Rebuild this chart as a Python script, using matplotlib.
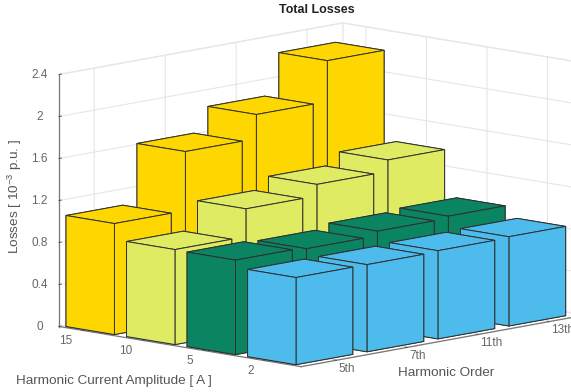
import numpy as np
import matplotlib
matplotlib.use('Agg')
import matplotlib.pyplot as plt
from mpl_toolkits.mplot3d import proj3d

orders = ['5th', '7th', '11th', '13th']
amplitudes = ['15', '10', '5', '2']
loss_15 = [1.057, 1.62, 1.85, 2.24]
loss_10 = [0.905, 1.17, 1.28, 1.39]
loss_5 = [0.90, 0.886, 0.93, 0.95]
loss_2 = [0.83, 0.83, 0.84, 0.85]
colors = ['#FFD700', '#DFEC63', '#0B8461', '#4DBBEC']
zticks = [0, 0.4, 0.8, 1.2, 1.6, 2, 2.4]

plt.rcParams['font.family'] = ['Liberation Sans', 'DejaVu Sans']
plt.rcParams['mathtext.default'] = 'regular'

W, H = 571, 392
fig = plt.figure(figsize=(W / 100, H / 100), dpi=100)
ax = fig.add_axes([0, 0, 1, 1], projection='3d', proj_type='ortho', computed_zorder=False)
ax.view_init(elev=10, azim=223.7)
ax.set_box_aspect((411, 335, 256))

xlim = (0.553, 4.553)
ylim = (0.461, 4.461)
ax.set_xlim(*xlim, view_margin=0)
ax.set_ylim(*ylim, view_margin=0)
ax.set_zlim(0, 2.4, view_margin=0)

rows = [loss_15, loss_10, loss_5, loss_2]
width = 0.8
n = 0
# far row first, and far bars first in every row
for r, row in enumerate(rows):
    y = 4 - r
    for i in range(3, -1, -1):
        bar = ax.bar3d(i + 1 - width / 2, y - width / 2, 0, width, width, row[i],
                       color=colors[r], edgecolor='#2f2f2f', linewidth=0.7, shade=False)
        bar.set_zorder(10 + n)
        n += 1

ax.set_xticks([1.05, 2.05, 3.05, 4.05])
ax.set_xticklabels(orders, ha='left')
ax.set_yticks([4.08, 3.08, 2.08, 1.08])
ax.set_yticklabels(amplitudes, ha='right', va='center')
ax.set_zticks(zticks)
ax.set_zticklabels(['0', '0.4', '0.8', '1.2', '1.6', '2', '2.4'], va='center')
ax.tick_params(axis='both', labelsize=8.5, labelcolor='#666666', color='#555555')

for axis in (ax.xaxis, ax.yaxis, ax.zaxis):
    axis.set_pane_color((1, 1, 1, 1))
    axis.pane.set_edgecolor('#ebebeb')
    axis.line.set_color('#777777')
    axis.line.set_linewidth(0.9)
    axis._axinfo['grid']['color'] = '#e6e6e6'
    axis._axinfo['grid']['linewidth'] = 0.8
    axis._axinfo['tick']['inward_factor'] = 0
    axis._axinfo['tick']['outward_factor'] = 0.1
    axis._axinfo['tick']['linewidth'] = {True: 0.7, False: 0.7}

ax.tick_params(axis='x', pad=-6)
ax.tick_params(axis='y', pad=-0.5)
ax.tick_params(axis='z', pad=0)


def screen(x, y, z):
    ax.apply_aspect()
    X, Y, _ = proj3d.proj_transform(x, y, z, ax.get_proj())
    return ax.transData.transform((X, Y))


# put the box where the reference has it: left corner of the floor, 252 px of z axis
side = 600.0
left, bottom = 0.0, 0.0
ax.set_position([left / W, bottom / H, side / W, side / H])
p0 = screen(xlim[0], ylim[1], 0)
p1 = screen(xlim[0], ylim[1], 2.4)
side = side * 252 / (p1[1] - p0[1])
ax.set_position([left / W, bottom / H, side / W, side / H])
p0 = screen(xlim[0], ylim[1], 0)
left = 59 - p0[0]
bottom = (H - 326.5) - p0[1]
ax.set_position([left / W, bottom / H, side / W, side / H])

fig.text(317 / W, 1 - 10 / H, 'Total Losses', fontsize=9, fontweight='bold', color='#222222',
         ha='center', va='center')
fig.text(15 / W, 1 - 196 / H, 'Losses [ 10$^{-3}$ p.u. ]', fontsize=9.7, color='#555555',
         rotation=90, ha='center', va='center')
fig.text(113.5 / W, 1 - 381 / H, 'Harmonic Current Amplitude [ A ]', fontsize=9.7, color='#555555',
         ha='center', va='center')
fig.text(446 / W, 1 - 373 / H, 'Harmonic Order', fontsize=9.7, color='#555555',
         ha='center', va='center')

fig.savefig('out.png', dpi=100)
